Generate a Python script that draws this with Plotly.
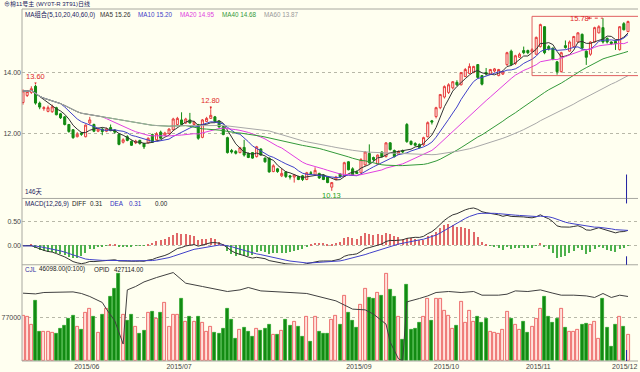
import numpy as np
import pandas as pd
import plotly.graph_objects as go

# ---------------- data ----------------
opens = [13.02,13.25,13.35,13.55,13.00,12.82,12.73,12.72,12.85,12.65,
         12.55,12.30,12.13,11.90,12.02,11.90,12.35,12.30,12.08,12.15,
         12.08,12.20,12.12,11.98,11.72,11.90,11.75,11.70,11.78,11.68,
         11.70,11.97,11.80,12.05,11.95,12.00,12.13,12.30,12.45,12.35,
         12.45,12.30,12.30,11.88,12.40,12.50,12.55,12.40,12.23,11.87,
         11.45,11.42,11.38,11.55,11.35,11.38,11.25,11.50,11.20,11.20,
         10.76,10.85,10.62,10.75,10.62,10.58,10.60,10.62,10.50,10.72,
         10.65,10.70,10.65,10.60,10.25,10.50,10.68,10.60,11.08,10.85,
         10.75,10.72,10.98,11.35,11.22,11.00,11.40,11.25,11.70,11.45,
         11.32,11.45,12.30,11.75,11.68,11.65,11.64,11.90,12.42,12.56,
         12.85,13.20,13.35,13.50,13.68,13.60,13.87,13.97,14.00,14.26,
         13.90,14.00,13.95,14.05,13.90,13.95,14.26,14.70,14.30,14.50,
         14.72,14.72,14.68,14.60,14.85,15.50,14.85,14.80,14.35,14.03,
         14.88,14.70,14.85,15.00,15.25,14.70,14.60,15.00,15.30,15.47,
         15.12,15.00,15.02,14.75,15.60,15.34]
highs = [13.45,13.42,13.55,13.60,13.05,12.90,12.92,12.95,12.88,12.68,
         12.58,12.32,12.15,12.05,12.06,12.30,12.55,12.33,12.20,12.20,
         12.20,12.30,12.15,12.00,11.85,11.95,11.78,11.80,11.80,11.70,
         11.88,12.00,12.05,12.10,12.06,12.18,12.52,12.55,12.70,12.52,
         12.68,12.42,12.32,12.48,12.55,12.80,12.58,12.42,12.25,11.90,
         11.50,11.46,11.57,11.80,11.38,11.40,11.60,11.52,11.22,11.22,
         11.00,10.88,10.85,10.78,10.65,10.68,10.62,10.65,10.75,10.78,
         10.90,10.72,10.68,10.62,10.42,10.62,10.70,11.08,11.10,10.90,
         10.80,11.20,11.42,11.65,11.25,11.32,11.42,11.72,11.72,11.48,
         11.45,11.48,12.35,11.78,11.72,11.68,11.90,12.40,12.45,12.88,
         13.30,13.58,13.65,13.72,13.75,14.02,14.15,14.30,14.22,14.28,
         13.92,14.15,14.12,14.15,14.12,14.05,14.68,14.75,14.58,14.65,
         14.85,14.75,14.80,15.18,15.60,15.52,14.90,14.82,14.38,14.68,
         15.05,15.05,15.20,15.32,15.28,14.72,15.02,15.50,15.55,15.78,
         15.15,15.02,15.05,15.52,15.65,15.70]
lows = [12.95,13.20,13.30,12.95,12.80,12.75,12.70,12.68,12.60,12.48,
        12.27,12.03,11.83,11.88,11.93,11.88,12.30,12.05,12.05,11.95,
        12.05,12.08,12.00,11.62,11.68,11.75,11.60,11.66,11.64,11.50,
        11.68,11.70,11.78,11.83,11.92,11.98,12.10,12.28,12.28,12.32,
        12.33,12.25,11.80,11.85,12.38,12.48,12.38,12.20,11.95,11.35,
        11.35,11.32,11.36,11.25,11.20,11.18,11.22,11.28,11.05,10.72,
        10.74,10.72,10.58,10.55,10.50,10.40,10.48,10.45,10.48,10.66,
        10.62,10.52,10.48,10.38,10.13,10.48,10.55,10.58,10.80,10.62,
        10.68,10.70,10.95,11.00,11.10,10.98,11.22,11.22,11.45,11.22,
        11.30,11.36,11.70,11.62,11.58,11.52,11.60,11.88,12.30,12.50,
        12.80,13.15,13.30,13.45,13.55,13.58,13.85,13.95,13.98,13.80,
        13.58,13.90,13.92,14.00,13.88,13.92,14.22,14.22,14.25,14.48,
        14.60,14.60,14.65,14.58,14.82,14.60,14.72,14.40,13.93,14.00,
        14.78,14.68,14.82,14.98,14.75,14.25,14.55,14.98,15.28,14.95,
        14.95,14.90,14.74,14.72,15.38,15.32]
closes = [13.40,13.38,13.47,13.00,12.87,12.85,12.85,12.88,12.62,12.52,
          12.30,12.07,11.87,11.98,11.98,12.28,12.45,12.08,12.15,12.07,
          12.15,12.10,12.05,11.65,11.80,11.78,11.62,11.76,11.68,11.57,
          11.85,11.72,12.00,11.85,12.02,12.15,12.48,12.50,12.30,12.48,
          12.35,12.38,11.85,12.45,12.50,12.60,12.40,12.22,11.97,11.38,
          11.40,11.36,11.54,11.30,11.22,11.20,11.57,11.30,11.08,10.75,
          10.95,10.76,10.70,10.60,10.58,10.65,10.50,10.50,10.72,10.70,
          10.80,10.55,10.50,10.40,10.40,10.58,10.60,11.05,10.82,10.65,
          10.70,11.15,11.40,11.05,11.15,11.30,11.25,11.70,11.48,11.25,
          11.42,11.40,11.74,11.65,11.62,11.55,11.87,12.36,12.38,12.85,
          13.28,13.54,13.60,13.70,13.60,14.00,14.10,14.20,14.20,13.84,
          13.62,13.95,14.10,14.12,14.10,14.02,14.65,14.26,14.55,14.60,
          14.65,14.65,14.75,15.15,15.57,14.65,14.78,14.43,14.03,14.65,
          14.82,15.00,15.18,15.30,14.80,14.50,15.00,15.47,15.50,15.00,
          15.00,14.95,14.95,15.50,15.40,15.67]
volumes = [79300,77500,63000,105500,51300,50700,50700,49000,47250,56000,
           61800,73500,79300,59500,55400,85200,92200,77000,49000,81700,
           90900,112500,127200,152250,81700,71200,81700,59500,47250,53000,
           85200,87000,73500,85200,102700,60700,81700,81700,108500,69000,
           77600,69000,78200,67700,51900,60700,50200,47250,56000,92200,
           71800,38500,55400,59000,51900,42000,57200,53000,57200,63000,
           45500,45500,53000,71800,61800,69000,59500,42000,78200,33200,
           78200,51300,
           47250,48600,71800,79300,63000,114300,85200,70000,59000,98000,
           127200,111400,109600,119000,114300,152250,124800,113100,78200,37300,
           133000,54200,57200,66500,77000,108500,70000,108500,109600,88400,
           79300,57200,61800,103800,67700,88400,69000,77600,67700,73500,
           51900,49000,47250,55400,87000,73500,63000,54200,69000,49000,
           60700,74600,90900,113100,77000,67700,74600,92200,57800,51900,
           51900,54200,64200,66000,64200,69000,39700,108500,57800,25700,
           63000,78200,60700,46098]
opid_idx = [0,3,5,9,12,14,16,19,20,22,23,24,25,27,29,32,36,39,43,46,49,52,54,57,
            60,64,68,71,72,75,79,82,84,87,88,90,91,92,95,97,99,102,105,108,110,
            114,116,118,121,124,127,129,132,135,137,139,141,143,145]
opid_val = [435400,433600,437100,437100,438600,434600,427100,412100,395400,366100,
            337900,307900,443600,452100,463600,474600,487100,460400,452100,445400,
            439600,443600,449600,441100,438600,437100,434600,427100,424600,416100,
            395400,393600,382900,357900,312900,270400,266100,413600,422100,428600,
            437100,439600,437100,439600,430400,430400,432900,441100,439600,443600,
            435400,430400,430400,428600,424600,434600,424600,430400,427114]
date_pos = [15.3, 37.4, 80.5, 101.5, 123.5]
date_labels = ["2015/06", "2015/07", "2015/09", "2015/10", "2015/11"]
last_date_label = "2015/12"
price_ticks = [12, 14]
price_tick_text = ["12.00", "14.00"]
macd_ticks = [0, 0.5]
macd_tick_text = ["0.00", "0.50"]
vol_ticks = [77000]
vol_tick_text = ["77000"]
ma_periods = [5, 10, 20, 40, 60]
ma_colors = ["#333333", "#4040C8", "#E040E0", "#33993A", "#A8A8A8"]

# ---------------- derived ----------------
n = len(closes)
idx = list(range(n))
cs = pd.Series(closes)
mas = [cs.rolling(p, min_periods=1).mean() for p in ma_periods]
ema12 = cs.ewm(span=12, adjust=False).mean()
ema26 = cs.ewm(span=26, adjust=False).mean()
diff = ema12 - ema26
dea = diff.ewm(span=9, adjust=False).mean()
hist = 2 * (diff - dea)

up = [c >= o for o, c in zip(opens, closes)]
RED = "#E63C3C"
GREEN = "#128A12"
BG = "#FFFFF0"
FONT = "Liberation Sans, Noto Sans CJK SC"

fig = go.Figure()

fig.add_trace(go.Candlestick(
    x=idx, open=opens, high=highs, low=lows, close=closes,
    increasing=dict(line=dict(color=RED, width=1), fillcolor="#FFF2EC"),
    decreasing=dict(line=dict(color=GREEN, width=1), fillcolor=GREEN),
    whiskerwidth=0, xaxis="x", yaxis="y", hoverinfo="skip"))

for m, col in zip(mas, ma_colors):
    fig.add_trace(go.Scatter(x=idx, y=m, mode="lines",
                             line=dict(color=col, width=1), xaxis="x", yaxis="y",
                             hoverinfo="skip"))

# MACD
fig.add_trace(go.Bar(x=idx, y=hist, width=0.3,
                     marker=dict(color=["#E06868" if h >= 0 else "#4CB04C" for h in hist],
                                 line=dict(width=0)),
                     xaxis="x2", yaxis="y2", hoverinfo="skip"))
fig.add_trace(go.Scatter(x=idx, y=diff, mode="lines", line=dict(color="#333333", width=1),
                         xaxis="x2", yaxis="y2", hoverinfo="skip"))
fig.add_trace(go.Scatter(x=idx, y=dea, mode="lines", line=dict(color="#4040C8", width=1),
                         xaxis="x2", yaxis="y2", hoverinfo="skip"))

# Volume
fig.add_trace(go.Bar(x=idx, y=volumes, width=0.72,
                     marker=dict(color=["#FFE2DC" if u else "#128A12" for u in up],
                                 line=dict(color=["#E85050" if u else "#2EA82E" for u in up],
                                           width=0.8)),
                     xaxis="x3", yaxis="y3", hoverinfo="skip"))
fig.add_trace(go.Scatter(x=opid_idx, y=opid_val, mode="lines",
                         line=dict(color="#404040", width=1),
                         xaxis="x3", yaxis="y4", hoverinfo="skip"))

# ---------------- layout ----------------
W, H = 640, 372
ML, MR, MT, MB = 20, 2, 9, 10
PW, PH = W - ML - MR, H - MT - MB
def px(x):
    return (x - ML) / PW
def py(y):
    return (H - MB - y) / PH

d_price = [py(199), 1.0]
d_macd = [py(265.5), py(199)]
d_vol = [0.0, py(265.5)]

x0 = -1 / 4.186
x1 = x0 + PW / 4.186
tickfont = dict(family=FONT, size=7, color="#444444")
gridcfg = dict(showgrid=True, gridcolor="#B8B8A8", griddash="dot", gridwidth=1,
               zeroline=False, showline=False, ticks="", tickfont=tickfont)
xcfg = dict(range=[x0, x1], showgrid=False, zeroline=False, showline=False,
            showticklabels=False, ticks="")

fig.update_layout(
    width=W, height=H, margin=dict(l=ML, r=MR, t=MT, b=MB),
    paper_bgcolor=BG, plot_bgcolor=BG, showlegend=False,
    xaxis=dict(**xcfg, anchor="y", rangeslider=dict(visible=False)),
    xaxis2=dict(**xcfg, anchor="y2", matches="x"),
    xaxis3=dict(range=[x0, x1], showgrid=False, zeroline=False, showline=False,
                ticks="", anchor="y3", matches="x",
                tickmode="array", tickvals=date_pos, ticktext=date_labels,
                tickfont=tickfont, ticklabelstandoff=0),
    yaxis=dict(**gridcfg, domain=d_price, range=[9.88, 16.08],
               tickmode="array", tickvals=price_ticks, ticktext=price_tick_text),
    yaxis2=dict(**gridcfg, domain=d_macd, range=[-0.385, 0.96],
                tickmode="array", tickvals=macd_ticks, ticktext=macd_tick_text),
    yaxis3=dict(**gridcfg, domain=d_vol, range=[0, 168875],
                tickmode="array", tickvals=vol_ticks, ticktext=vol_tick_text),
    yaxis4=dict(overlaying="y3", range=[265364, 506614], visible=False),
    bargap=0,
)

shapes = []
LINE = "#A8A8A0"
for yy in [1.0, py(199), py(265.5), 0.0]:
    shapes.append(dict(type="line", xref="paper", yref="paper", x0=0, x1=1, y0=yy, y1=yy,
                       line=dict(color=LINE, width=1)))
shapes.append(dict(type="line", xref="paper", yref="paper", x0=0, x1=0, y0=0, y1=1,
                   line=dict(color=LINE, width=1)))
# highlight box
shapes.append(dict(type="rect", xref="x", yref="y", x0=(531.7 - 21) / 4.186, x1=(638.5 - 21) / 4.186,
                   y0=13.90, y1=15.84, line=dict(color="#E06060", width=1)))
# dotted leader to 15.78 high
shapes.append(dict(type="line", xref="x", yref="y", x0=135.6, x1=139, y0=15.78, y1=15.78,
                   line=dict(color="#E04040", width=1, dash="dot")))
# cursor markers
CX = px(626.5)
for a, b in [(175, 199), (199, 204), (257, 265.5), (351, 362)]:
    shapes.append(dict(type="line", xref="paper", yref="paper", x0=CX, x1=CX, y0=py(a), y1=py(b),
                       line=dict(color="#2020A0", width=1)))
fig.update_layout(shapes=shapes)

ann = []
def txt(x, y, s, color="#333333", size=6.3, anchor="left"):
    ann.append(dict(xref="paper", yref="paper", x=px(x), y=py(y), text=s, showarrow=False,
                    xanchor=anchor, yanchor="middle",
                    font=dict(family=FONT, size=size, color=color)))

txt(0, 4, "⊕棉11号主 (WY0T-R 3T91)日线", "#202060", 6)
txt(21, 15, "MA组合(5,10,20,40,60,0)", "#202060")
txt(96.7, 15, "MA5 15.26", ma_colors[0])
txt(134, 15, "MA10 15.20", ma_colors[1])
txt(176.7, 15, "MA20 14.95", ma_colors[2])
txt(219, 15, "MA40 14.68", ma_colors[3])
txt(261, 15, "MA60 13.87", "#999999")
txt(21, 193, "146天", "#202060")
txt(21.5, 204.5, "MACD(12,26,9)", "#202060")
txt(68.5, 204.5, "DIFF", "#222222")
txt(86, 204.5, "0.31", "#222222")
txt(106.7, 204.5, "DEA", "#3030C0")
txt(125, 204.5, "0.31", "#3030C0")
txt(151.7, 204.5, "0.00", "#222222")
txt(21.5, 270, "CJL", "#3030A0")
txt(35, 270, "46098.00(0:100)", "#222222")
txt(90.7, 270, "OPID", "#222222")
txt(110, 270, "427114.00", "#222222")
txt(639.5, 367.5, last_date_label, "#444444", 7, anchor="right")

redf = dict(family=FONT, size=7.5, color="#E02828")
ann.append(dict(xref="x", yref="y", x=3, y=13.60, ax=0, ay=-8, text="13.60", font=redf,
                showarrow=True, arrowhead=2, arrowsize=0.6, arrowwidth=0.8, arrowcolor="#E02828"))
ann.append(dict(xref="x", yref="y", x=45, y=12.80, ax=0, ay=-9, text="12.80", font=redf,
                showarrow=True, arrowhead=2, arrowsize=0.6, arrowwidth=0.8, arrowcolor="#E02828"))
ann.append(dict(xref="x", yref="y", x=74, y=9.98, text="10.13", showarrow=False,
                font=dict(family=FONT, size=7.5, color="#20A020")))
ann.append(dict(xref="x", yref="y", x=133.3, y=15.78, text="15.78", showarrow=False,
                font=redf))
ann.append(dict(xref="x", yref="y", x=135.2, y=15.78, ax=136.3, ay=15.78, axref="x", ayref="y",
                text="", showarrow=True, arrowhead=2, arrowsize=0.7, arrowwidth=0.8,
                arrowcolor="#E04040"))
fig.update_layout(annotations=ann)

fig.write_html("out.html", config={"displayModeBar": False},
               post_script="document.body.style.margin='0px';")
